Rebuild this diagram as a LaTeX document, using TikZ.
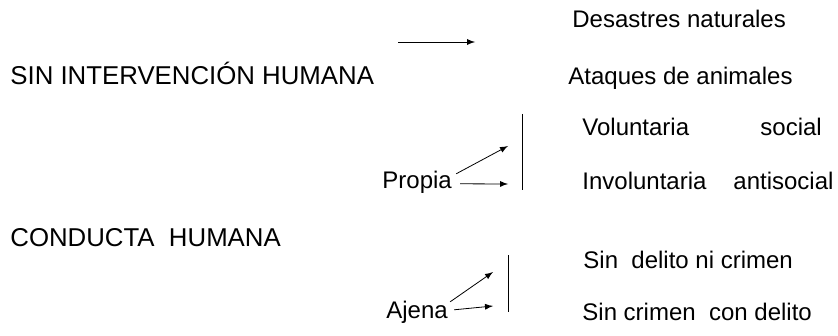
\documentclass[tikz,border=0pt]{standalone}
\usepackage{fontspec}
\setmainfont{Liberation Sans}
\usepackage{tikz}
\usetikzlibrary{arrows}
\tikzset{txt/.style={anchor=base west,inner sep=0pt,font=\fontsize{12}{14}\selectfont}}
\tikzset{titulo/.style={txt,font=\fontsize{12.9}{15}\selectfont}}
\tikzset{flecha/.style={->,>=latex,thin}}

\begin{document}
\begin{tikzpicture}[x=0.5pt,y=-0.5pt]
\useasboundingbox (0,0) rectangle (838,336);
% lado izquierdo
\node[titulo] (sin) at (10,85) {SIN INTERVENCI\'ON HUMANA};
\node[titulo] (conducta) at (10,246) {CONDUCTA\ \ HUMANA};
% sin intervencion
\node[txt] (desastres) at (572,28) {Desastres naturales};
\node[txt] (ataques) at (568,85) {Ataques de animales};
\coordinate (a1) at (398,42);
\coordinate (a2) at (475,42);
\draw[flecha] (a1) -- (a2);
% propia
\node[txt] (propia) at (382,188) {Propia};
\node[txt] (vol) at (582,136) {Voluntaria};
\node[txt] (soc) at (760,136) {social};
\node[txt] (invol) at (582,190) {Involuntaria};
\node[txt] (antisoc) at (733,190) {antisocial};
\coordinate (p1) at (508,146);
\coordinate (p2) at (508,184);
\coordinate (v1) at (522,114);
\coordinate (v2) at (522,190);
\draw[flecha] ([xshift=2pt,yshift=4pt]propia.east) -- (p1);
\draw[flecha] ([xshift=4pt,yshift=-1pt]propia.east) -- (p2);
\draw[thin] (v1) -- (v2);
% ajena
\node[txt] (ajena) at (386,318) {Ajena};
\node[txt] (sindel) at (583,268) {Sin\ \ delito ni crimen};
\node[txt] (sincri) at (582,320) {Sin crimen\ \ con delito};
\coordinate (j1) at (493,272);
\coordinate (j2) at (493,306);
\coordinate (w1) at (508,255);
\coordinate (w2) at (508,312);
\draw[flecha] ([xshift=1pt,yshift=5pt]ajena.east) -- (j1);
\draw[flecha] ([xshift=3pt,yshift=1pt]ajena.east) -- (j2);
\draw[thin] (w1) -- (w2);
\end{tikzpicture}
\end{document}
